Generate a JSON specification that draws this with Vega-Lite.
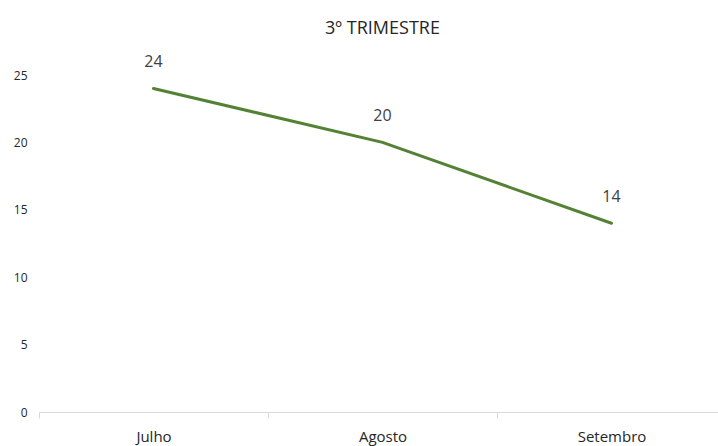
{
  "$schema": "https://vega.github.io/schema/vega-lite/v6.json",
  "autosize": {"type": "none"},
  "padding": {"left": 39, "top": 75, "right": 0, "bottom": 34},
  "width": 687,
  "height": 337,
  "background": "white",
  "title": {
    "text": "3º TRIMESTRE",
    "anchor": "middle",
    "font": "Open Sans",
    "fontSize": 18,
    "fontWeight": "normal",
    "color": "#262626",
    "offset": 16
  },
  "config": {
    "view": {"stroke": null},
    "font": "Open Sans"
  },
  "data": {
    "values": [
      {"mes": "Julho", "valor": 24},
      {"mes": "Agosto", "valor": 20},
      {"mes": "Setembro", "valor": 14}
    ]
  },
  "encoding": {
    "x": {
      "field": "mes",
      "type": "nominal",
      "sort": null,
      "scale": {"type": "band", "paddingInner": 0, "paddingOuter": 0},
      "axis": {
        "title": null,
        "labelAngle": 0,
        "labelFont": "Open Sans",
        "labelFontSize": 15,
        "labelColor": "#262626",
        "labelPadding": 11,
        "domainColor": "#d9d9d9",
        "tickColor": "#d9d9d9",
        "tickBand": "extent",
        "tickSize": 6,
        "grid": false
      }
    },
    "y": {
      "field": "valor",
      "type": "quantitative",
      "scale": {"domain": [0, 25], "nice": false},
      "axis": {
        "title": null,
        "values": [0, 5, 10, 15, 20, 25],
        "domain": false,
        "ticks": false,
        "grid": false,
        "labelFont": "Open Sans",
        "labelFontSize": 12,
        "labelColor": "#262626",
        "labelPadding": 12
      }
    }
  },
  "layer": [
    {
      "mark": {"type": "line", "color": "#548235", "strokeWidth": 3, "strokeCap": "round"}
    },
    {
      "mark": {"type": "text", "baseline": "middle", "dy": -26, "fontSize": 16, "color": "#404040", "font": "Open Sans"},
      "encoding": {"text": {"field": "valor", "type": "quantitative"}}
    }
  ]
}
